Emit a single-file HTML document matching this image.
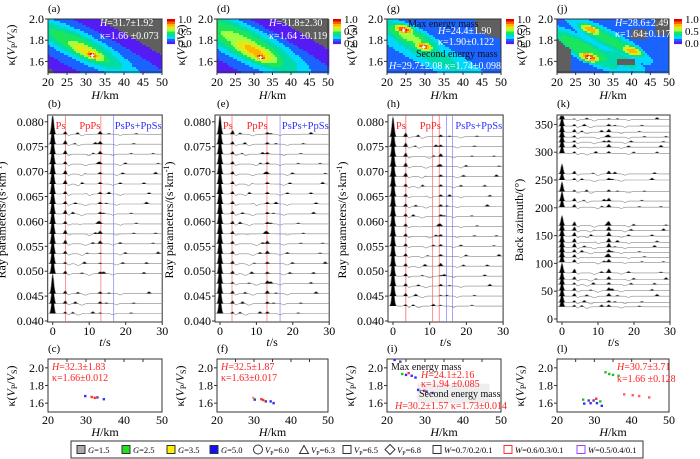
<!DOCTYPE html>
<html><head><meta charset="utf-8"><style>
html,body{margin:0;padding:0;background:#fff}
svg{display:block;font-family:"Liberation Serif",serif}
</style></head><body>
<svg id="fig" width="700" height="459" viewBox="0 0 700 459" xmlns="http://www.w3.org/2000/svg"></svg>
<script>
// ---------- data ----------
const hTicks=[20,25,30,35,40,45,50];
const kTicks=[1.6,1.8,2.0];
const kTicksB=[1.6,1.8,2.0];
const pTicks=[0.040,0.045,0.050,0.055,0.060,0.065,0.070,0.075,0.080];
const bazTicks=[0,50,100,150,200,250,300,350];
const tTicks=[0,10,20,30];
// contour blobs: [H, kappa, amplitude, sigmaAlong, sigmaPerp]
const blobsA=[[31.7,1.66,1.0,0.09,0.05],[30,1.7,0.75,0.3,0.1],[28,1.75,0.55,0.6,0.16],[30,1.7,0.3,1.5,0.26]];
const blobsD=[[31.8,1.64,1.0,0.08,0.05],[30,1.7,0.8,0.35,0.13],[27,1.78,0.6,0.7,0.2],[30,1.7,0.3,1.5,0.3]];
const blobsG=[[24.4,1.9,1.0,0.10,0.06],[29.7,1.74,0.95,0.09,0.06],[26,1.83,0.6,0.35,0.13],[30,1.7,0.4,0.9,0.2],[35,1.7,0.2,3,3]];
const blobsJ=[[28.6,1.64,1.0,0.10,0.06],[29,1.9,0.85,0.12,0.06],[40,1.7,0.85,0.12,0.06],[27,1.72,0.55,0.5,0.13],[37,1.62,0.45,0.3,0.1],[34,1.8,0.5,0.5,0.12],[32,1.75,0.22,3,3]];
// trace rows (ray parameter / back azimuth)
const rowsB=[0.0415,0.0435,0.0455,0.0495,0.0515,0.0535,0.0555,0.0575,0.0595,0.0615,0.0635,0.0655,0.0675,0.0695,0.0715,0.0735,0.0755,0.0775];
const rowsE=[0.0415,0.0435,0.0455,0.0475,0.0495,0.0515,0.0535,0.0555,0.0575,0.0595,0.0615,0.0635,0.0655,0.0675,0.0695,0.0715,0.0735,0.0755,0.0775];
const rowsH=[0.0430,0.0450,0.0470,0.0490,0.0510,0.0530,0.0550,0.0570,0.0590,0.0610,0.0630,0.0650,0.0670,0.0690,0.0710,0.0730,0.0750,0.0770];
const rowsK=[22,30,41,51,62,71,83,102,111,120,129,138,149,159,168,201,212,229,250,261,298,309,318,327,336,347,359];
// Ps / PpPs amplitudes per row (px)
const psB=[2,3,3,3,2,3,4,4,3,4,3,3,4,4,3,4,4,3];
const ppB=[1,2,2,2,1,1,3,3,2,2,2,2,2,2,2,3,3,3];
const psE=[2,3,3,2,3,3,3,3,3,3,3,3,3,3,3,3,3,3,4];
const ppE=[2,2,3,3,2,2,3,3,2,2,2,2,2,2,2,2,2,2,2];
const psH=[2,3,3,3,3,3,3,3,3,3,3,3,3,4,4,4,4,4];
const ppH=[1,1,2,1,3,2,2,2,2,2,2,2,2,2,2,3,2,2];
const psK=[2,2,3,3,2,3,4,3,3,3,4,4,4,4,4,3,3,2,2,3,2,3,2,2,3,2,1];
// extra peaks (t s, amp px) cycled across rows
const extraT=[5.5,8,11,14,18.5,21.5,25,27.5];
const extraAmp=[1.5,1,2,1,1.5,2,1.5,1];
// scatter points (H, kappa)
const scatC=[[29.8,1.68,'#3030ff'],[31.5,1.67,'#ff3030'],[32.3,1.66,'#ff3030'],[33,1.665,'#7030a0'],[34.7,1.645,'#3030ff']];
const scatF=[[29.8,1.66,'#ffb000'],[30.2,1.64,'#3030ff'],[32,1.645,'#ff3030'],[32.5,1.635,'#ff3030'],[33.2,1.62,'#7030a0'],[34.5,1.62,'#3030ff'],[35.3,1.6,'#3030ff']];
const scatI=[[22,2.09,'#3030ff'],[23.5,2.07,'#7030a0'],[24,1.93,'#20c020'],[25,1.92,'#3030ff'],[25.7,1.94,'#ff3030'],[26.5,1.91,'#3030ff'],[27.5,1.89,'#3030ff'],[28.2,1.75,'#3030ff'],[29.8,1.74,'#ff3030'],[30.4,1.73,'#3030ff'],[32,1.715,'#7030a0']];
const scatL=[[27,1.64,'#20c020'],[27.3,1.595,'#3030ff'],[28.5,1.63,'#7030a0'],[29,1.6,'#3030ff'],[29.8,1.63,'#7030a0'],[30.5,1.65,'#ff3030'],[30.7,1.6,'#3030ff'],[31.6,1.62,'#20c020'],[32,1.57,'#3030ff'],[38,1.7,'#ff6060'],[40.3,1.69,'#ff6060'],[42,1.68,'#ff6060'],[44.7,1.665,'#ff6060'],[33,1.95,'#20c020'],[34,1.93,'#20c020'],[35,1.92,'#20c020'],[36.5,1.91,'#20c020']];

// ---------- helpers ----------
const NS='http://www.w3.org/2000/svg';
const svg=document.getElementById('fig');
function mk(tag,attrs,parent,name,inter){
  const e=document.createElementNS(NS,tag);
  for(const k in attrs)e.setAttribute(k,attrs[k]);
  
  
  (parent||svg).appendChild(e);return e;
}
function txt(x,y,s,attrs,parent,name){
  const a=Object.assign({x:x,y:y,'font-size':11},attrs||{});
  const t=mk('text',a,parent,name,false);t.innerHTML=s;return t;
}
const cols=[
 {x0:48,x1:162,t0:52.7,ts:3.65,lab:['a','b','c']},
 {x0:217,x1:328,t0:220,ts:3.64,lab:['d','e','f']},
 {x0:387,x1:501,t0:393,ts:3.67,lab:['g','h','i']},
 {x0:557,x1:669,t0:562,ts:3.6,lab:['j','k','l']}];
function cmap(v){
  const st=[[0,[176,0,224]],[0.15,[40,40,255]],[0.3,[0,216,255]],[0.48,[0,224,96]],[0.6,[160,255,64]],[0.74,[255,224,0]],[0.87,[255,128,0]],[1,[224,0,0]]];
  v=Math.round(v*10)/10;
  for(let i=1;i<st.length;i++)if(v<=st[i][0]){const a=st[i-1],b=st[i],f=(v-a[0])/(b[0]-a[0]);
    return 'rgb('+a[1].map((c,j)=>Math.round(c+(b[1][j]-c)*f)).join(',')+')';}
  return 'rgb(224,0,0)';
}
// ---------- contour panels ----------
const CT=19,CB=72;
function contour(ci,blobs,gray){
  const c=cols[ci];const g=mk('g',{},svg,'misfit-map-'+c.lab[0],false);
  const X=h=>c.x0+(h-20)/30*(c.x1-c.x0), Y=k=>CB-(k-1.5)/0.5*(CB-CT);
  const dx=0.64,dy=-0.77;const cs=2;
  for(let px=c.x0;px<c.x1;px+=cs)for(let py=CT;py<CB;py+=cs){
    const u=(px+cs/2-c.x0)/(c.x1-c.x0),v=(CB-py-cs/2)/(CB-CT);
    let val=0;
    for(const b of blobs){const bu=(b[0]-20)/30,bv=(b[1]-1.5)/0.5;const du=u-bu,dv=v-bv;
      const a=du*dx+dv*dy,p=-du*dy+dv*dx;
      val=Math.max(val,b[2]*Math.exp(-(a*a)/(2*b[3]*b[3])-(p*p)/(2*b[4]*b[4])));}
    let col=val<0.06?'#5f5f5f':cmap(val);
    if(gray&&gray(u,v))col='#5f5f5f';
    mk('rect',{x:px,y:py,width:cs+0.3,height:cs+0.3,fill:col},g,'contour-cell',false);
  }
  mk('rect',{x:c.x0,y:CT,width:c.x1-c.x0,height:CB-CT,fill:'none',stroke:'#333','stroke-width':1},g,'map-frame',false);
  const pk=blobs[0];
  txt(X(pk[0])-3.5,Y(pk[1])+3.5,'✦',{'font-size':8,fill:'#fff'},g,'best-fit-star');
  if(ci===2)txt(X(blobs[1][0])-3.5,Y(blobs[1][1])+3.5,'✦',{'font-size':8,fill:'#fff'},g,'second-fit-star');
  for(const h of hTicks){mk('line',{x1:X(h),x2:X(h),y1:CB,y2:CB+3,stroke:'#333'},g,'x-tick',false);
    txt(X(h),CB+14,h,{'text-anchor':'middle','font-size':12},g,'x-tick-label');}
  for(const k of kTicks){mk('line',{x1:c.x0-3,x2:c.x0,y1:Y(k),y2:Y(k),stroke:'#333'},g,'y-tick',false);
    txt(c.x0-4,Y(k)+4,k.toFixed(1),{'text-anchor':'end','font-size':12},g,'y-tick-label');}
  txt((c.x0+c.x1)/2,CB+27,'<tspan font-style="italic">H</tspan>/km',{'text-anchor':'middle','font-size':12},g,'x-axis-title');
  txt(c.x0,12,'('+c.lab[0]+')',{'font-size':11},g,'panel-label');
  const cx=c.x1+5;
  for(let i=0;i<10;i++)mk('rect',{x:cx,y:19+i*2.5,width:8,height:2.6,fill:cmap(1-(i+0.5)/10)},g,'colorbar-step',false);
  [[1.0,23],[0.5,35],[0.0,47]].forEach(a=>txt(cx+11,a[1],a[0].toFixed(1),{'font-size':11},g,'colorbar-label'));
}
contour(0,blobsA);
contour(1,blobsD);
contour(2,blobsG,(u,v)=>u>0.78&&v>0.62+0.6*(1-u));
contour(3,blobsJ,(u,v)=>(u>0.88&&v>0.7)||(u<0.12&&v<0.65-u*2)||(Math.abs(u-0.62)<0.08&&Math.abs(v-0.2)<0.06)||(Math.abs(u-0.73)<0.07&&Math.abs(v-0.72)<0.08));
function ann(ci,lines){const c=cols[ci];lines.forEach(l=>txt(c.x0+l[0],l[1],l[2],{'font-size':10,fill:l[3]||'#fff'},svg,'map-annotation'));}
ann(0,[[52,26,'<tspan font-style="italic">H</tspan>=31.7±1.92'],[52,39,'κ=1.66 ±0.073']]);
ann(1,[[52,26,'<tspan font-style="italic">H</tspan>=31.8±2.30'],[52,39,'κ=1.64 ±0.119']]);
ann(2,[[21,27,'Max energy mass','#111'],[51,34,'<tspan font-style="italic">H</tspan>=24.4±1.90'],[51,45,'κ=1.90±0.122'],[29,57,'Second energy mass','#111'],[2,69,'<tspan font-style="italic">H</tspan>=29.7±2.08  κ=1.74±0.098']]);
ann(3,[[58,26,'<tspan font-style="italic">H</tspan>=28.6±2.49'],[58,37,'κ=1.64±0.117']]);
[15,185,355,525].forEach((x,i)=>{txt(x,45,'κ(<tspan font-style="italic">V</tspan><tspan font-size="8" dy="2">P</tspan><tspan dy="-2">/</tspan><tspan font-style="italic">V</tspan><tspan font-size="8" dy="2">S</tspan><tspan dy="-2">)</tspan>',{'text-anchor':'middle','font-size':12,transform:'rotate(-90 '+x+' 45)'},svg,'kappa-axis-title');});

// ---------- trace panels ----------
const TT=115,TB=322;
function traces(ci,rows,ps,pp,yfun,vlines,isBaz){
  const c=cols[ci];const g=mk('g',{},svg,'receiver-functions-'+c.lab[1],false);
  const X=t=>c.t0+t*c.ts;const left=c.t0-5,right=X(30);
  mk('rect',{x:left,y:TT,width:right-left,height:TB-TT,fill:'#fff',stroke:'#333'},g,'trace-frame',false);
  vlines.forEach(v=>mk('line',{x1:X(v[0]),x2:X(v[0]),y1:TT,y2:TB,stroke:v[1],'stroke-width':0.8,opacity:0.7},g,'phase-line',false));
  rows.forEach((r,i)=>{
    const y0=yfun(r);
    const pk=[[0,isBaz?10:20,0.32],[3.5,ps[i],0.35],[4.3,-1.5,0.4],[13,pp[i],0.35]];
    for(let j=0;j<3;j++){const k=(i*3+j*5)%extraT.length;pk.push([extraT[k]+(i%3)*0.7,extraAmp[(i+j)%extraAmp.length],0.35]);}
    pk.push([7+(i%4),-1.6,0.5]);pk.push([16.5+(i%3),-1.3,0.4]);
    let line='',fill='M'+X(-1.2)+','+y0;
    for(let t=-1.2;t<=30;t+=0.15){let a=0;for(const p of pk)a+=p[1]*Math.exp(-((t-p[0])**2)/(2*p[2]*p[2]));
      const yy=Math.max(TT+1,y0-a);line+=(line?'L':'M')+X(t).toFixed(1)+','+yy.toFixed(1);fill+='L'+X(t).toFixed(1)+','+Math.max(TT+1,y0-Math.max(a,0)).toFixed(1);}
    fill+='L'+X(30)+','+y0+'Z';
    mk('path',{d:fill,fill:'#000'},g,'trace-positive-fill',false);
    mk('path',{d:line,fill:'none',stroke:'#888','stroke-width':0.6},g,'trace-line',false);
  });
  for(const t of tTicks){mk('line',{x1:X(t),x2:X(t),y1:TB,y2:TB+3,stroke:'#333'},g,'x-tick',false);
    txt(X(t),TB+13,t,{'text-anchor':'middle','font-size':12},g,'x-tick-label');}
  txt((left+right)/2,TB+24,'<tspan font-style="italic">t</tspan>/s',{'text-anchor':'middle','font-size':12},g,'x-axis-title');
  txt(c.x0,107,'('+c.lab[1]+')',{'font-size':11},g,'panel-label');
  const ticks=isBaz?bazTicks:pTicks;
  ticks.forEach(v=>{const y=yfun(v);mk('line',{x1:left-3,x2:left,y1:y,y2:y,stroke:'#333'},g,'y-tick',false);
    txt(left-4,y+4,isBaz?v:v.toFixed(3),{'text-anchor':'end','font-size':12},g,'y-tick-label');});
  if(!isBaz){txt(X(0.8),129,'Ps',{'font-size':10.5,fill:'#ff2020'},g,'ps-label');
    txt(X(7.3),129,'PpPs',{'font-size':10.5,fill:'#ff2020'},g,'ppps-label');
    txt(X(17),129,'PsPs+PpSs',{'font-size':10.5,fill:'#3030ff'},g,'psps-label');
    const ax=left-42;txt(ax,220,'Ray parameters/(s·km<tspan font-size="8" dy="-4">-1</tspan><tspan dy="4">)</tspan>',{'text-anchor':'middle','font-size':12,transform:'rotate(-90 '+ax+' 220)'},g,'y-axis-title');}
  else{const ax=left-34;txt(ax,220,'Back azimuth/(°)',{'text-anchor':'middle','font-size':12,transform:'rotate(-90 '+ax+' 220)'},g,'y-axis-title');}
}
const yP=p=>321-(p-0.04)/0.005*24.9;
const yB=b=>319-b/50*27.8;
traces(0,rowsB,psB,ppB,yP,[[3.5,'#ff4040'],[13.2,'#ff4040'],[16.7,'#6060ff']],false);
traces(1,rowsE,psE,ppE,yP,[[3.3,'#ff4040'],[12.9,'#ff4040'],[16.5,'#6060ff']],false);
traces(2,rowsH,psH,ppH,yP,[[3.5,'#ff2020'],[10.8,'#ff4040'],[12.6,'#ff4040'],[14.6,'#6060ff'],[16.2,'#6060ff']],false);
traces(3,rowsK,psK,psK,yB,[],true);

// ---------- scatter panels ----------
const ST=359,SB=412;
function scatter(ci,pts,lines){
  const c=cols[ci];const g=mk('g',{},svg,'solution-scatter-'+c.lab[2],false);
  const X=h=>c.x0+(h-20)/30*(c.x1-c.x0),Y=k=>SB-(k-1.5)/0.6*(SB-ST);
  mk('rect',{x:c.x0,y:ST,width:c.x1-c.x0,height:SB-ST,fill:'#fff',stroke:'#333'},g,'scatter-frame',false);
  if(ci===2)mk('rect',{x:X(28),y:Y(1.82),width:X(47)-X(28),height:Y(1.6)-Y(1.82),fill:'#eee'},g,'annotation-background',false);
  pts.forEach(p=>mk('rect',{x:X(p[0])-1.2,y:Y(p[1])-1.2,width:2.4,height:2.4,fill:p[2]},g,'solution-point',false));
  for(const h of hTicks){mk('line',{x1:X(h),x2:X(h),y1:ST,y2:ST+3,stroke:'#333'},g,'x-tick-top',false);}
  [20,30,40,50].forEach(h=>txt(X(h),SB+12,h,{'text-anchor':'middle','font-size':12},g,'x-tick-label'));
  kTicksB.forEach(k=>{mk('line',{x1:c.x0-3,x2:c.x0,y1:Y(k),y2:Y(k),stroke:'#333'},g,'y-tick',false);
    txt(c.x0-4,Y(k)+4,k.toFixed(1),{'text-anchor':'end','font-size':12},g,'y-tick-label');});
  txt((c.x0+c.x1)/2,SB+24,'<tspan font-style="italic">H</tspan>/km',{'text-anchor':'middle','font-size':12},g,'x-axis-title');
  txt(c.x0,352,'('+c.lab[2]+')',{'font-size':11},g,'panel-label');
  const ax=c.x0-33;txt(ax,386,'κ(<tspan font-style="italic">V</tspan><tspan font-size="8" dy="2">P</tspan><tspan dy="-2">/</tspan><tspan font-style="italic">V</tspan><tspan font-size="8" dy="2">S</tspan><tspan dy="-2">)</tspan>',{'text-anchor':'middle','font-size':12,transform:'rotate(-90 '+ax+' 386)'},g,'y-axis-title');
  lines.forEach(l=>txt(c.x0+l[0],l[1],l[2],{'font-size':10,fill:l[3]||'#ff2020'},g,'scatter-annotation'));
}
scatter(0,scatC,[[4,370,'<tspan font-style="italic">H</tspan>=32.3±1.83'],[4,381,'κ=1.66±0.012']]);
scatter(1,scatF,[[4,370,'<tspan font-style="italic">H</tspan>=32.5±1.87'],[4,381,'κ=1.63±0.017']]);
scatter(2,scatI,[[4,370,'Max energy mass','#111'],[34,378,'<tspan font-style="italic">H</tspan>=24.1±2.16'],[34,387,'κ=1.94 ±0.085'],[32,397,'Second energy mass','#111'],[8,409,'<tspan font-style="italic">H</tspan>=30.2±1.57  κ=1.73±0.014']]);
scatter(3,scatL,[[60,370,'<tspan font-style="italic">H</tspan>=30.7±3.71'],[60,382,'κ=1.66 ±0.128']]);

// ---------- legend ----------
const lg=mk('g',{},svg,'legend',false);
mk('rect',{x:71,y:441,width:572,height:17,fill:'#fff',stroke:'#333'},lg,'legend-frame',false);
const legItems=[[81,'sq','#aaa','#333','<tspan font-style="italic">G</tspan>=1.5'],[126,'sq','#20e020','#333','<tspan font-style="italic">G</tspan>=2.5'],[171,'sq','#ffee00','#333','<tspan font-style="italic">G</tspan>=3.5'],[214,'sq','#1010ff','#333','<tspan font-style="italic">G</tspan>=5.0'],
 [258,'ci','none','#333','<tspan font-style="italic">V</tspan><tspan font-size="6" dy="2">P</tspan><tspan dy="-2">=6.0</tspan>'],[304,'tr','none','#333','<tspan font-style="italic">V</tspan><tspan font-size="6" dy="2">P</tspan><tspan dy="-2">=6.3</tspan>'],
 [347,'sq','none','#333','<tspan font-style="italic">V</tspan><tspan font-size="6" dy="2">P</tspan><tspan dy="-2">=6.5</tspan>'],[390,'di','none','#333','<tspan font-style="italic">V</tspan><tspan font-size="6" dy="2">P</tspan><tspan dy="-2">=6.8</tspan>'],
 [437,'sq','none','#333','<tspan font-style="italic">W</tspan>=0.7/0.2/0.1'],[508,'sq','none','#ff3030','<tspan font-style="italic">W</tspan>=0.6/0.3/0.1'],[581,'sq','none','#a040ff','<tspan font-style="italic">W</tspan>=0.5/0.4/0.1']];
legItems.forEach(it=>{
  const x=it[0],y=449.5;
  if(it[1]==='sq')mk('rect',{x:x-4,y:y-4,width:8,height:8,fill:it[2],stroke:it[3]},lg,'legend-symbol',false);
  if(it[1]==='ci')mk('circle',{cx:x,cy:y,r:4.5,fill:'none',stroke:it[3]},lg,'legend-symbol',false);
  if(it[1]==='tr')mk('path',{d:'M'+(x-4.5)+','+(y+4)+'L'+x+','+(y-4)+'L'+(x+4.5)+','+(y+4)+'Z',fill:'none',stroke:it[3]},lg,'legend-symbol',false);
  if(it[1]==='di')mk('path',{d:'M'+(x-5)+','+y+'L'+x+','+(y-5)+'L'+(x+5)+','+y+'L'+x+','+(y+5)+'Z',fill:'none',stroke:it[3]},lg,'legend-symbol',false);
  txt(x+7,y+3.5,it[4],{'font-size':8.5},lg,'legend-label');
});
</script>
</body></html>
